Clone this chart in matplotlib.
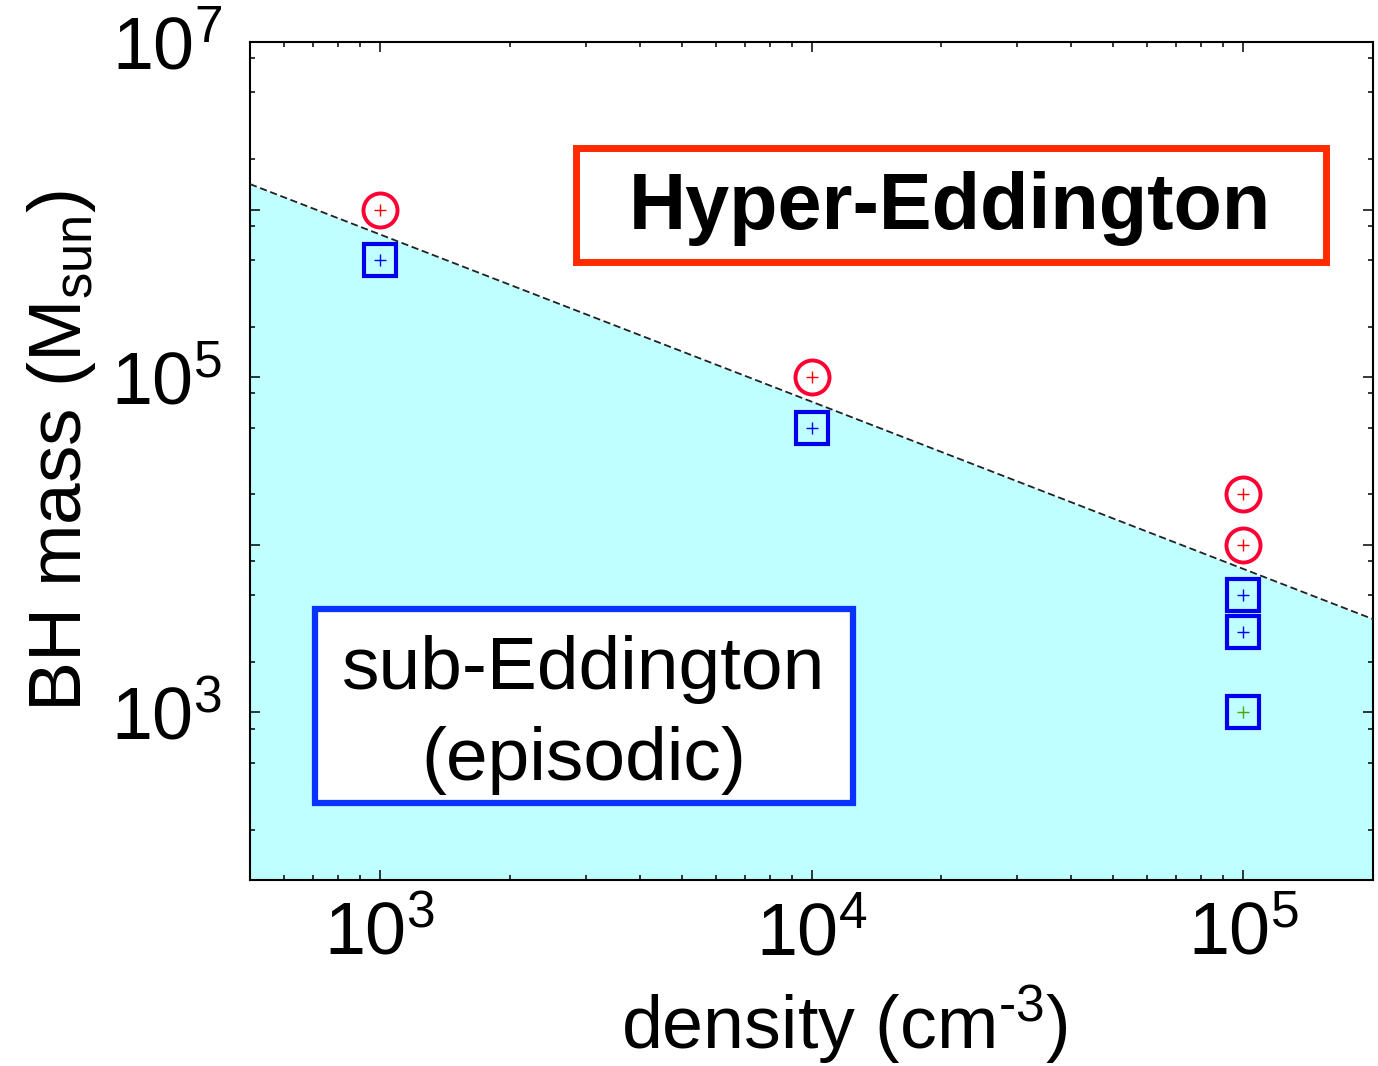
import numpy as np
import matplotlib
matplotlib.use("Agg")
import matplotlib.pyplot as plt
from matplotlib.ticker import LogLocator, FuncFormatter, NullFormatter
from matplotlib.patches import Rectangle

# --- data ---
hyper_density = [1e3, 1e4, 1e5, 1e5]
hyper_mass = [1e6, 1e5, 2e4, 1e4]

sub_density = [1e3, 1e4, 1e5, 1e5, 1e5]
sub_mass = [5e5, 5e4, 5e3, 3e3, 1e3]
sub_cross_colors = ['#0000ff', '#0000ff', '#0000ff', '#0000ff', '#44aa00']

# boundary line (end points)
line_density = [5e2, 2e5]
line_mass = [1.42e6, 3.6e3]

xlim = (5e2, 2e5)
ylim = (1e2, 1e7)

plt.rcParams['font.family'] = ['Liberation Sans', 'DejaVu Sans']
plt.rcParams['mathtext.fontset'] = 'custom'
plt.rcParams['mathtext.rm'] = 'Liberation Sans'
plt.rcParams['mathtext.default'] = 'regular'

fig = plt.figure(figsize=(13.78, 10.66), dpi=100)
ax = fig.add_axes([0.1814, 0.1745, 0.8150, 0.7861])
ax.set_xscale('log'); ax.set_yscale('log')
ax.set_xlim(*xlim); ax.set_ylim(*ylim)

# shaded sub-Eddington region + dashed boundary
ax.fill_between(line_density, line_mass, ylim[0], color='#bfffff', lw=0, zorder=1)
ax.plot(line_density, line_mass, ls=(0, (4, 2)), color='#222222', lw=1.3, zorder=3)

# markers
ax.plot(hyper_density, hyper_mass, 'o', ms=24.5, mfc='none', mec='#ff0033', mew=2.8, zorder=4)
ax.plot(hyper_density, hyper_mass, '+', ms=9, color='#ff0000', mew=1, zorder=5)
ax.plot(sub_density, sub_mass, 's', ms=23, mfc='none', mec='#0000ee', mew=3, zorder=4)
for xd, yd, c in zip(sub_density, sub_mass, sub_cross_colors):
    ax.plot([xd], [yd], '+', ms=9, color=c, mew=1, zorder=5)

# ticks
ax.xaxis.set_major_locator(LogLocator(base=10, numticks=20))
ax.xaxis.set_minor_locator(LogLocator(base=10, subs=np.arange(2, 10), numticks=20))
ax.yaxis.set_major_locator(LogLocator(base=10, numticks=20))
ax.yaxis.set_minor_locator(LogLocator(base=10, subs=(2, 5, 8), numticks=20))
ax.xaxis.set_minor_formatter(NullFormatter())
ax.yaxis.set_minor_formatter(NullFormatter())

def xfmt(v, pos):
    return r'$\mathregular{10^{%d}}$' % round(np.log10(v))

def yfmt(v, pos):
    e = int(round(np.log10(v)))
    return r'$\mathregular{10^{%d}}$' % e if e % 2 == 1 else ''

ax.xaxis.set_major_formatter(FuncFormatter(xfmt))
ax.yaxis.set_major_formatter(FuncFormatter(yfmt))
ax.tick_params(which='both', direction='in', top=True, right=True, width=1.1, labelsize=53)
ax.tick_params(which='major', length=7.5)
ax.tick_params(which='minor', length=3.8)
ax.tick_params(axis='x', which='major', pad=15)
ax.tick_params(axis='y', which='major', pad=20)
for s in ax.spines.values():
    s.set_linewidth(1.5)

ax.set_xlabel('density (cm$^{\u20103}$)', fontsize=53)
ax.set_ylabel(r'BH mass (M$_{sun}$)', fontsize=54)
ax.xaxis.set_label_coords(0.529, -0.123)
ax.yaxis.set_label_coords(-0.1354, 0.512)

# labelled boxes
ax.add_patch(Rectangle((0.2903, 0.7375), 0.6679, 0.136, transform=ax.transAxes,
                       facecolor='white', edgecolor='#ff2a00', lw=5, zorder=6))
ax.text(0.623, 0.801, 'Hyper-Eddington', transform=ax.transAxes, fontsize=57,
        fontweight='bold', ha='center', va='center', zorder=7)

ax.add_patch(Rectangle((0.0579, 0.0919), 0.4791, 0.2315, transform=ax.transAxes,
                       facecolor='white', edgecolor='#0a32ff', lw=4.5, zorder=6))
ax.text(0.297, 0.197, 'sub-Eddington\n(episodic)', transform=ax.transAxes, fontsize=54,
        ha='center', va='center', linespacing=1.42, zorder=7)

fig.savefig('out.png', dpi=100)
